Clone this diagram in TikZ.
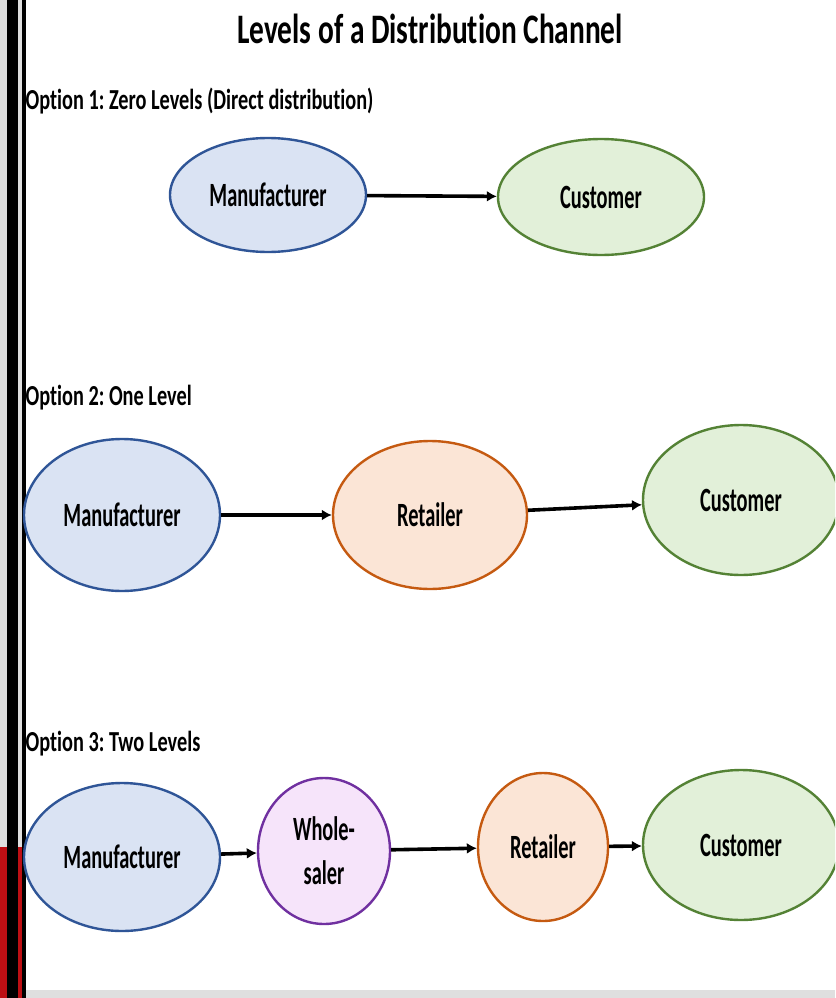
\documentclass[tikz,border=0pt]{standalone}
\usepackage{fontspec}
\setmainfont{Carlito}[FakeStretch=0.70,Ligatures=NoCommon]
\newfontfamily\ovalfont{Carlito}[FakeStretch=0.60,Ligatures=NoCommon]
\usetikzlibrary{shapes.geometric,arrows.meta}
\definecolor{mfill}{HTML}{DAE3F3}\definecolor{mline}{HTML}{2F5597}
\definecolor{rfill}{HTML}{FBE5D6}\definecolor{rline}{HTML}{C55A11}
\definecolor{cfill}{HTML}{E2F0D9}\definecolor{cline}{HTML}{548235}
\definecolor{wfill}{HTML}{F6E4FA}\definecolor{wline}{HTML}{7030A0}
\definecolor{barred}{HTML}{BE0F14}
\tikzset{
  party/.style={ellipse,draw,line width=2.4pt,inner sep=0pt,align=center,
    font=\ovalfont\bfseries\fontsize{34}{37}\selectfont},
  maker/.style={party,fill=mfill,draw=mline,minimum width=196,minimum height=148},
  retail/.style={party,fill=rfill,draw=rline,minimum width=194,minimum height=148},
  buyer/.style={party,fill=cfill,draw=cline,minimum width=200,minimum height=150},
  whole/.style={party,fill=wfill,draw=wline,minimum width=132,minimum height=146},
  flow/.style={line width=3.6pt,-{Latex[length=10pt,width=11pt]}},
  optlabel/.style={anchor=west,font=\bfseries\fontsize{29}{33}\selectfont}
}
\begin{document}
\frenchspacing
\begin{tikzpicture}[x=1pt,y=-1pt]
\useasboundingbox (0,0) rectangle (835,998);
\clip (0,0) rectangle (835,998);
% frame on the left
\fill[white] (0,0) rectangle (835,998);
\fill[gray!25] (0,0) rectangle (7,998);
\fill[gray!25] (18,0) rectangle (22,998);
\fill[barred] (0,847) rectangle (7,998);
\fill[barred] (18,847) rectangle (22,998);
\fill[black] (7,0) rectangle (18,998);
\fill[black] (22,0) rectangle (26,998);
\fill[gray!25] (26,990) rectangle (835,998);

\node[font=\bfseries\fontsize{42}{46}\selectfont] (title) at (430,29) {Levels of a Distribution Channel};

% option 1
\node[optlabel] (opt1) at (22,101) {Option 1: Zero Levels (Direct distribution)};
\node[maker,minimum width=196,minimum height=114] (m1) at (268,195) {Manufacturer};
\node[buyer,minimum width=206,minimum height=116] (c1) at (601,197) {Customer};
\draw[flow] (m1) -- (c1);

% option 2
\node[optlabel] (opt2) at (22,398) {Option 2: One Level};
\node[maker,minimum height=152] (m2) at (122,515) {Manufacturer};
\node[retail] (r2) at (430,515) {Retailer};
\node[buyer,minimum width=196] (c2) at (741,500) {Customer};
\draw[flow] (m2) -- (r2);
\draw[flow] (r2) -- (c2);

% option 3
\node[optlabel] (opt3) at (22,744) {Option 3: Two Levels};
\node[maker] (m3) at (122,857) {Manufacturer};
\node[whole] (w3) at (324,851) {Whole-\\[7pt]saler};
\node[retail,minimum width=130] (r3) at (543,847) {Retailer};
\node[buyer,minimum width=196] (c3) at (741,845) {Customer};
\draw[flow] (m3) -- (w3);
\draw[flow] (w3) -- (r3);
\draw[flow] (r3) -- (c3);
\end{tikzpicture}
\end{document}
